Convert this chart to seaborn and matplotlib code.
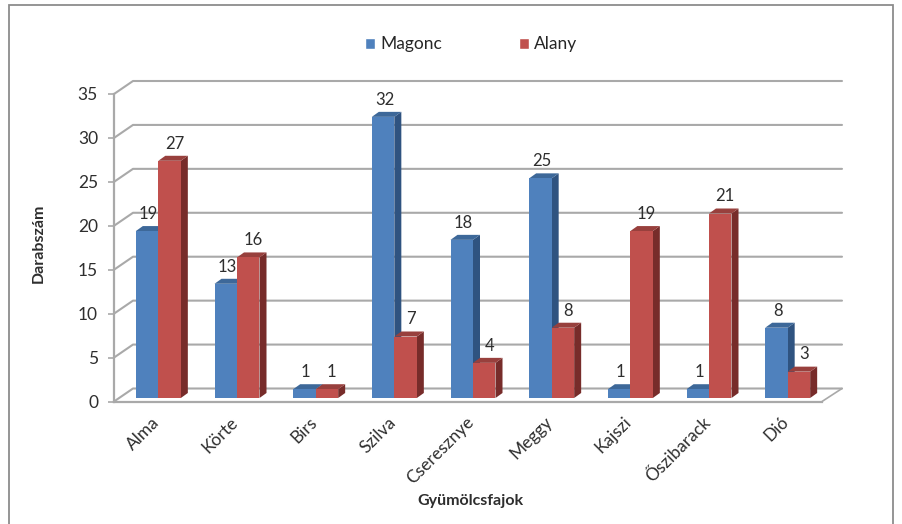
import pandas as pd
import seaborn as sns
import matplotlib.pyplot as plt
from matplotlib.lines import Line2D
from matplotlib.patches import Polygon, Rectangle
from matplotlib.transforms import ScaledTranslation

categories = ['Alma', 'Körte', 'Birs', 'Szilva', 'Cseresznye', 'Meggy', 'Kajszi', 'Őszibarack', 'Dió']
magonc = [19, 13, 1, 32, 18, 25, 1, 1, 8]
alany = [27, 16, 1, 7, 4, 8, 19, 21, 3]
series_names = ['Magonc', 'Alany']
yticks = [0, 5, 10, 15, 20, 25, 30, 35]

W, H = 902, 524
# front plane of the fake 3D box, in pixels
LEFT, RIGHT, Y0, Y35 = 114, 822, 401.5, 94
GRID = '#a9a9a9'
TEXT = '#2e2e2e'
FRONT = {'Magonc': '#4f81bd', 'Alany': '#c0504d'}
SIDE = {'Magonc': '#2f5380', 'Alany': '#772c2a'}
TOP = {'Magonc': '#3d6899', 'Alany': '#98403d'}
LABEL_SHIFT = {'Magonc': 1, 'Alany': 3.5}

sns.set_theme(style='white')
plt.rcParams['font.family'] = ['Lato', 'DejaVu Sans']

df = pd.DataFrame({
    'cat': categories * 2,
    'val': magonc + alany,
    'series': [series_names[0]] * len(categories) + [series_names[1]] * len(categories),
})

fig = plt.figure(figsize=(W / 100, H / 100), dpi=100)
ax = fig.add_axes([LEFT / W, 1 - Y0 / H, (RIGHT - LEFT) / W, (Y0 - Y35) / H])
sns.barplot(data=df, x='cat', y='val', hue='series', palette=FRONT, width=0.572, gap=0,
            saturation=1, errorbar=None, ax=ax, zorder=3)
ax.set_xlim(-0.5, 8.5)
ax.set_ylim(0, 35)

# pixels to data units
px = 9 / (RIGHT - LEFT)
py = 35 / (Y0 - Y35)

# back wall and floor
for v in yticks:
    ax.add_line(Line2D([-0.5, -0.5 + 19 * px, 8.5 + 20 * px], [v, v + 13 * py, v + 13 * py],
                       color=GRID, lw=1.5, clip_on=False, zorder=1))
ax.add_line(Line2D([8.5, 8.5 + 20 * px], [0, 13 * py], color=GRID, lw=1.2, clip_on=False, zorder=1))

# bars: nudge onto the floor, add side and top faces
n = len(categories)
bars = list(ax.containers[0]) + list(ax.containers[1])
for i, patch in enumerate(bars):
    name = series_names[i // n]
    val = df['val'][i]
    x0 = patch.get_x() + 5 * px
    w = patch.get_width()
    y0 = 3.5 * py
    dx, dy = 7 * px, 5 * py
    patch.set_x(x0)
    patch.set_y(y0)
    patch.set_linewidth(0)
    z = 4 + (i % n) * 2 + i // n
    patch.set_zorder(z + 0.5)
    x1 = x0 + w
    y1 = y0 + patch.get_height()
    ax.add_patch(Polygon([(x1, y0), (x1 + dx, y0 + dy), (x1 + dx, y1 + dy), (x1, y1)],
                         fc=SIDE[name], lw=0, zorder=z, clip_on=False))
    ax.add_patch(Polygon([(x0, y1), (x0 + dx, y1 + dy), (x1 + dx, y1 + dy), (x1, y1)],
                         fc=TOP[name], lw=0, zorder=z, clip_on=False))
    ax.annotate(str(val), (x0 + w / 2, y1 + dy), xytext=(LABEL_SHIFT[name], 3), textcoords='offset points',
                ha='center', va='bottom', fontsize=12, color=TEXT, zorder=30, annotation_clip=False)

ax.tick_params(axis='x', length=0, pad=9)
ax.tick_params(axis='y', length=4.5, width=1.2, color=GRID, pad=7, left=True)
ax.set_yticks(yticks)
ax.set_yticklabels(yticks, fontsize=12.5, color=TEXT)
ax.set_xticks(range(n))
ax.set_xticklabels(categories, rotation=45, ha='right', rotation_mode='anchor', fontsize=12.5, color=TEXT)
for lab in ax.get_xticklabels():
    lab.set_transform(lab.get_transform() + ScaledTranslation(-2 / 100, 0, fig.dpi_scale_trans))

for s in ['top', 'right']:
    ax.spines[s].set_visible(False)
for s in ['left', 'bottom']:
    ax.spines[s].set_color(GRID)
    ax.spines[s].set_linewidth(1.6)
    ax.spines[s].set_zorder(2)

ax.set_xlabel('')
ax.set_ylabel('')
fig.text(470 / W, 1 - 501 / H, 'Gyümölcsfajok', ha='center', va='center', fontsize=11.5,
         fontweight='bold', color=TEXT)
fig.text(39 / W, 1 - 243 / H, 'Darabszám', ha='center', va='center', rotation=90, fontsize=11.5,
         fontweight='bold', color=TEXT)

sns.move_legend(ax, 'center', bbox_to_anchor=(471 / W, 1 - 44.5 / H), bbox_transform=fig.transFigure,
                ncol=2, frameon=False, title=None, fontsize=12.5, handlelength=0.6, handleheight=0.6,
                handletextpad=0.3, columnspacing=4.4)

# picture border, only left and top show
fig.add_artist(Rectangle((9 / W, -0.05), 0.98, 1 - 5 / H + 0.05, transform=fig.transFigure,
                         fill=False, ec='#8c8c8c', lw=1.3))

fig.savefig('out.png', dpi=100)
